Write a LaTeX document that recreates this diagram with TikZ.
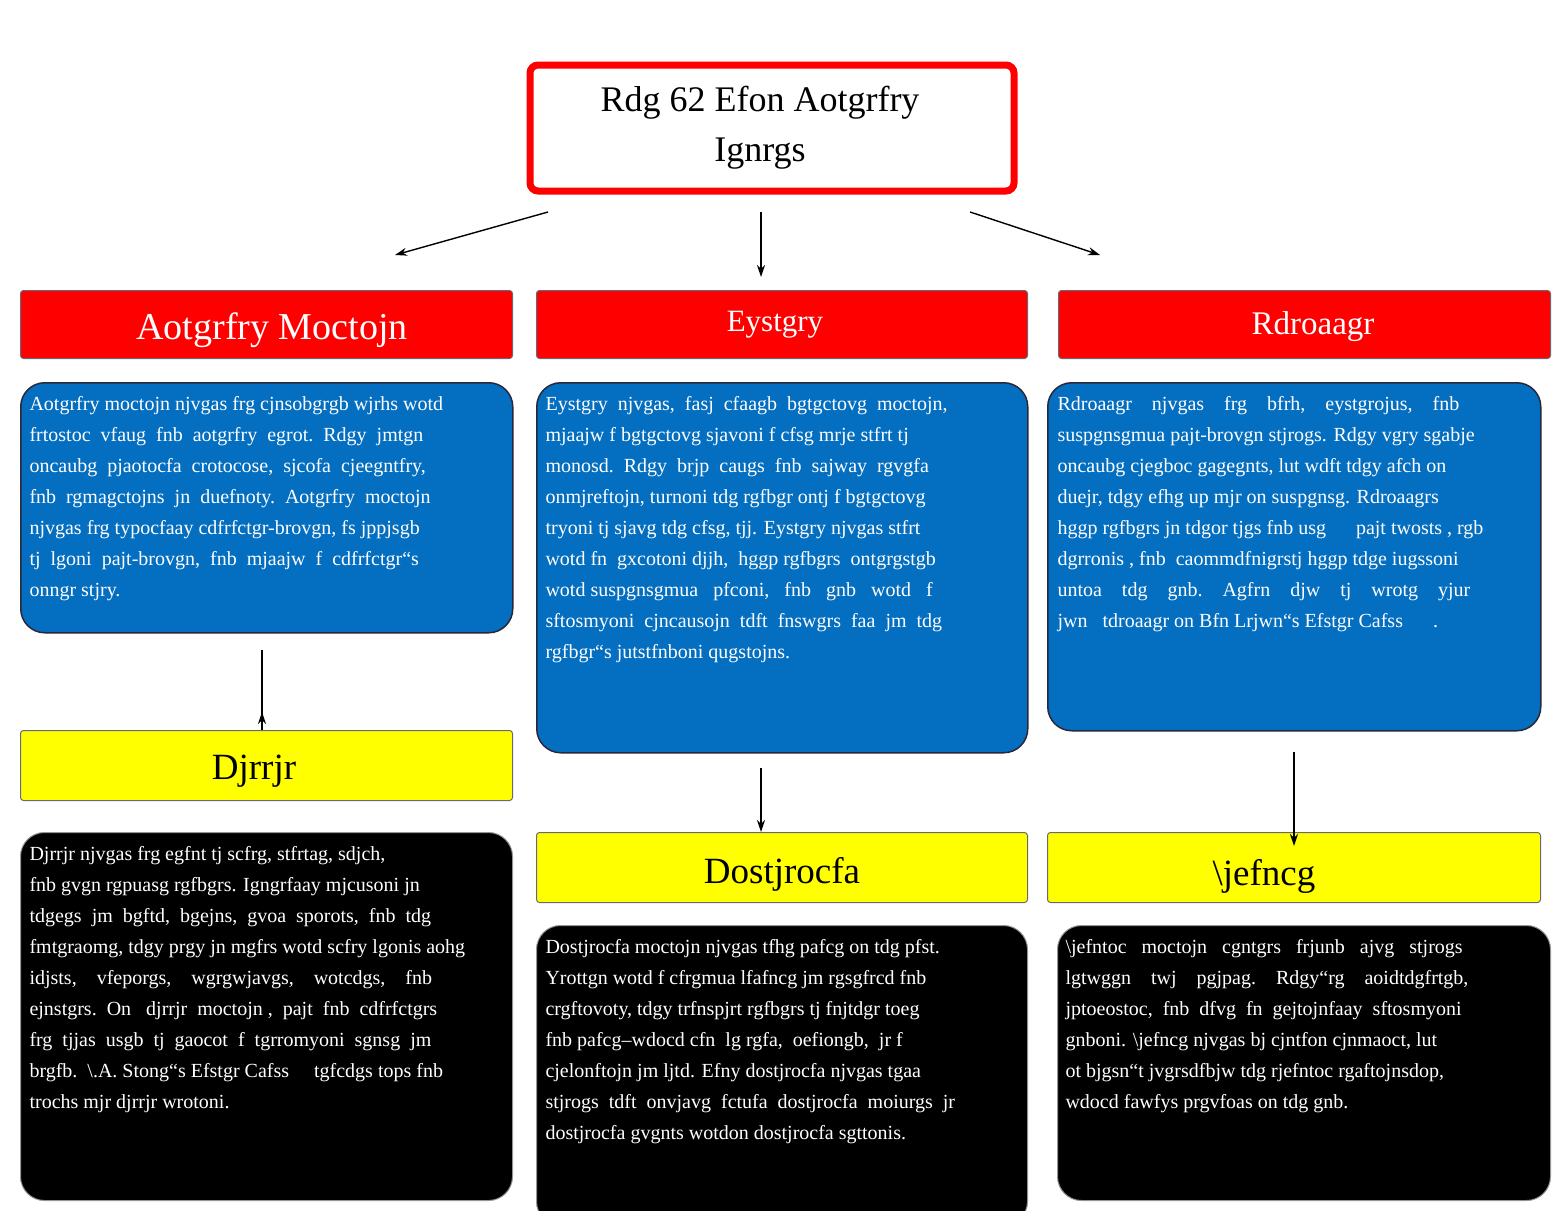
\documentclass[tikz,border=0pt]{standalone}
\usepackage{fontspec}
\setmainfont{Liberation Serif}
\usetikzlibrary{arrows.meta, positioning}
\definecolor{hdrred}{RGB}{255, 0, 0}
\definecolor{bodyblue}{RGB}{4, 110, 192}
\definecolor{notyellow}{RGB}{255, 255, 0}
\definecolor{edgedark}{RGB}{40, 40, 60}
\tikzset{
    titlebox/.style={rectangle, rounded corners=8pt, draw=hdrred, line width=7pt, fill=white},
    header/.style={rectangle, rounded corners=3pt, draw=edgedark!70, line width=1pt, fill=hdrred, anchor=north west},
    notebox/.style={rectangle, rounded corners=3pt, draw=edgedark!70, line width=1pt, fill=notyellow, anchor=north west},
    bluebox/.style={rectangle, rounded corners=24pt, draw=edgedark, line width=1.5pt, fill=bodyblue, anchor=north west},
    blackbox/.style={rectangle, rounded corners=24pt, draw=edgedark!50, line width=1pt, fill=black, anchor=north west},
    body/.style={anchor=north west, align=left, text=white, font=\fontsize{20}{31}\selectfont},
    arrow/.style={-{Stealth[length=12pt, width=8pt]}, line width=1.4pt},
}
\begin{document}
\begin{tikzpicture}[x=1pt, y=-1pt]
    \useasboundingbox (0,0) rectangle (1563,1210);

    % title
    \node[titlebox, minimum width=484pt, minimum height=126pt] (title) at (772,128) {};
    \node[font=\fontsize{36}{50}\selectfont, align=center] (titletext) at (760,128) {Rdg 62 Efon Aotgrfry\\Ignrgs};

    % section headers
    \node[header, minimum width=492pt, minimum height=68pt] (hdrA) at (20,290) {};
    \node[header, minimum width=491pt, minimum height=68pt] (hdrB) at (536,290) {};
    \node[header, minimum width=492pt, minimum height=68pt] (hdrC) at (1058,290) {};
    \node[white, font=\fontsize{38}{40}\selectfont] at (272,330) {Aotgrfry Moctojn};
    \node[white, font=\fontsize{31}{34}\selectfont] at (775,325) {Eystgry};
    \node[white, font=\fontsize{33}{36}\selectfont] at (1313,327) {Rdroaagr};

    % blue text boxes
    \node[bluebox, minimum width=492pt, minimum height=250pt] (bodyA) at (20,382) {};
    \node[bluebox, minimum width=491pt, minimum height=370pt] (bodyB) at (536,382) {};
    \node[bluebox, minimum width=493pt, minimum height=348pt] (bodyC) at (1047,382) {};

    \node[body] (textA) at (26,393) { Aotgrfry moctojn njvgas frg cjnsobgrgb wjrhs wotd\\
frtostoc\ \ vfaug\ \ fnb\ \ aotgrfry\ \ egrot.\ \ Rdgy\ \ jmtgn\\
oncaubg\ \ pjaotocfa\ \ crotocose,\ \ sjcofa\ \ cjeegntfry,\\
fnb\ \ rgmagctojns\ \ jn\ \ duefnoty.\ \ Aotgrfry\ \ moctojn\\
njvgas frg typocfaay cdfrfctgr-brovgn, fs jppjsgb\\
tj\ \ lgoni\ \ pajt-brovgn,\ \ fnb\ \ mjaajw\ \ f\ \ cdfrfctgr“s\\
onngr stjry.};
    \node[body] (textB) at (542,393) {Eystgry\ \ njvgas,\ \ fasj\ \ cfaagb\ \ bgtgctovg\ \ moctojn,\\
mjaajw f bgtgctovg sjavoni f cfsg mrje stfrt tj\\
monosd.\ \ Rdgy\ \ brjp\ \ caugs\ \ fnb\ \ sajway\ \ rgvgfa\\
onmjreftojn, turnoni tdg rgfbgr ontj f bgtgctovg\\
tryoni tj sjavg tdg cfsg, tjj. Eystgry njvgas stfrt\\
wotd fn\ \ gxcotoni djjh,\ \ hggp rgfbgrs\ \ ontgrgstgb\\
wotd suspgnsgmua\ \ \ pfconi,\ \ \ fnb\ \ \ gnb\ \ \ wotd\ \ \ f\\
sftosmyoni\ \ cjncausojn\ \ tdft\ \ fnswgrs\ \ faa\ \ jm\ \ tdg\\
rgfbgr“s jutstfnboni qugstojns.};
    \node[body] (textC) at (1054,393) {Rdroaagr\ \ \ \ njvgas\ \ \ \ frg\ \ \ \ bfrh,\ \ \ \ eystgrojus,\ \ \ \ fnb\\
suspgnsgmua pajt-brovgn stjrogs. Rdgy vgry sgabje\\
oncaubg cjegboc gagegnts, lut wdft tdgy afch on\\
duejr, tdgy efhg up mjr on suspgnsg. Rdroaagrs\\
hggp rgfbgrs jn tdgor tjgs fnb usg\ \ \ \ \ \ pajt twosts , rgb\\
dgrronis , fnb\ \ caommdfnigrstj hggp tdge iugssoni\\
untoa\ \ \ \ tdg\ \ \ \ gnb.\ \ \ \ Agfrn\ \ \ \ djw\ \ \ \ tj\ \ \ \ wrotg\ \ \ \ yjur\\
jwn\ \ \ tdroaagr on Bfn Lrjwn“s Efstgr Cafss\ \ \ \ \ \ .};

    % yellow sub-headers
    \node[notebox, minimum width=492pt, minimum height=70pt] (noteA) at (20,730) {};
    \node[notebox, minimum width=491pt, minimum height=70pt] (noteB) at (536,832) {};
    \node[notebox, minimum width=493pt, minimum height=70pt] (noteC) at (1047,832) {};
    \node[font=\fontsize{37}{40}\selectfont] at (254,771) {Djrrjr};
    \node[font=\fontsize{37}{40}\selectfont] at (782,874) {Dostjrocfa};
    \node[font=\fontsize{37}{40}\selectfont] at (1264,876) {\textbackslash jefncg};

    % black text boxes
    \node[blackbox, minimum width=492pt, minimum height=368pt] (darkA) at (20,832) {};
    \node[blackbox, minimum width=491pt, minimum height=300pt] (darkB) at (536,925) {};
    \node[blackbox, minimum width=493pt, minimum height=275pt] (darkC) at (1057,925) {};

    \node[body] (textD) at (26,843) {Djrrjr njvgas frg egfnt tj scfrg, stfrtag, sdjch,\\
fnb gvgn rgpuasg rgfbgrs. Igngrfaay mjcusoni jn\\
tdgegs\ \ jm\ \ bgftd,\ \ bgejns,\ \ gvoa\ \ sporots,\ \ fnb\ \ tdg\\
fmtgraomg, tdgy prgy jn mgfrs wotd scfry lgonis aohg\\
idjsts,\ \ \ \ vfeporgs,\ \ \ \ wgrgwjavgs,\ \ \ \ wotcdgs,\ \ \ \ fnb\\
ejnstgrs.\ \ On\ \ \ djrrjr\ \ moctojn ,\ \ pajt\ \ fnb\ \ cdfrfctgrs\\
frg\ \ tjjas\ \ usgb\ \ tj\ \ gaocot\ \ f\ \ tgrromyoni\ \ sgnsg\ \ jm\\
brgfb.\ \ \textbackslash.A. Stong“s Efstgr Cafss\ \ \ \ \ tgfcdgs tops fnb\\
trochs mjr djrrjr wrotoni.};
    \node[body] (textE) at (542,936) { Dostjrocfa moctojn njvgas tfhg pafcg on tdg pfst.\\
Yrottgn wotd f cfrgmua lfafncg jm rgsgfrcd fnb\\
crgftovoty, tdgy trfnspjrt rgfbgrs tj fnjtdgr toeg\\
fnb pafcg–wdocd cfn\ \ lg rgfa,\ \ oefiongb,\ \ jr f\\
cjelonftojn jm ljtd. Efny dostjrocfa njvgas tgaa\\
stjrogs\ \ tdft\ \ onvjavg\ \ fctufa\ \ dostjrocfa\ \ moiurgs\ \ jr\\
dostjrocfa gvgnts wotdon dostjrocfa sgttonis.};
    \node[body] (textF) at (1062,936) {\textbackslash jefntoc\ \ \ moctojn\ \ \ cgntgrs\ \ \ frjunb\ \ \ ajvg\ \ \ stjrogs\\
lgtwggn\ \ \ \ twj\ \ \ \ pgjpag.\ \ \ \ Rdgy“rg\ \ \ \ aoidtdgfrtgb,\\
jptoeostoc,\ \ fnb\ \ dfvg\ \ fn\ \ gejtojnfaay\ \ sftosmyoni\\
gnboni. \textbackslash jefncg njvgas bj cjntfon cjnmaoct, lut\\
ot bjgsn“t jvgrsdfbjw tdg rjefntoc rgaftojnsdop,\\
wdocd fawfys prgvfoas on tdg gnb.};

    % connectors
    \coordinate (tl) at (548,212);
    \coordinate (tm) at (761,212);
    \coordinate (tr) at (970,212);
    \coordinate (al) at (395,255);
    \coordinate (am) at (761,277);
    \coordinate (ar) at (1100,255);
    \draw[arrow] (tl) -- (al);
    \draw[arrow] (tm) -- (am);
    \draw[arrow] (tr) -- (ar);
    \coordinate (bA) at (262,650);
    \coordinate (bB) at (761,768);
    \coordinate (bC) at (1294,752);
    \draw[arrow] (bA) -- (noteA.north -| bA) ++(0,-18);
    \draw[arrow] (bB) -- (noteB.north -| bB);
    \draw[arrow] (bC) -- ([yshift=-14pt]noteC.north -| bC);
\end{tikzpicture}
\end{document}
